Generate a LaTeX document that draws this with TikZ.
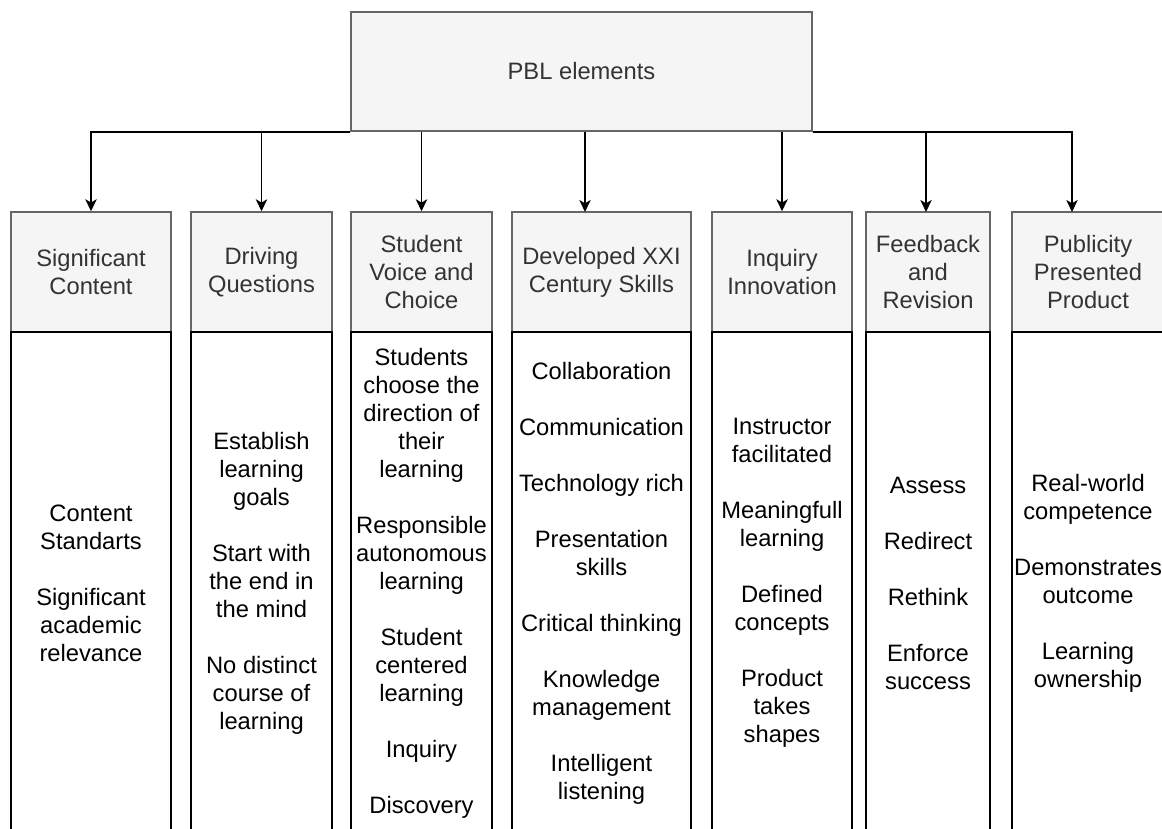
\documentclass[tikz,border=0pt]{standalone}
\usepackage{fontspec}
\setmainfont{Liberation Sans}
\usetikzlibrary{arrows.meta}
\definecolor{hdrfill}{HTML}{F5F5F5}
\definecolor{hdrline}{HTML}{666666}
\definecolor{hdrtext}{HTML}{333333}
\begin{document}
\begin{tikzpicture}[x=0.75pt,y=-0.75pt,
  txt/.style={font=\fontsize{17.8pt}{21pt}\selectfont, align=center},
  hdr/.style={txt, draw=hdrline, fill=hdrfill, text=hdrtext, line width=1.1pt, minimum height=90pt, inner sep=0pt},
  body/.style={txt, draw=black, fill=white, text=black, line width=1.2pt, minimum height=376.5pt, inner sep=0pt},
  arr/.style={draw=black, line width=1.3pt, -{Stealth[length=9pt,width=8.5pt,inset=2.5pt]}}
]
\useasboundingbox (0,0) rectangle (1162,828);
\clip (0,0) rectangle (1162,828);

\node[hdr, minimum width=345.75pt, minimum height=89.25pt] (top) at (581.5,71.5) {PBL elements};

% headers
\node[hdr, minimum width=120pt]    (h1) at (91,272)    {Significant\\Content};
\node[hdr, minimum width=105.75pt] (h2) at (261.5,272) {Driving\\Questions};
\node[hdr, minimum width=105.75pt] (h3) at (421.5,272) {Student\\Voice and\\Choice};
\node[hdr, minimum width=134.25pt] (h4) at (601.5,272) {Developed XXI\\Century Skills};
\node[hdr, minimum width=105pt]    (h5) at (782,272)   {Inquiry\\Innovation};
\node[hdr, minimum width=93pt]     (h6) at (928,272)   {Feedback\\and\\Revision};
\node[hdr, minimum width=114pt]    (h7) at (1088,272)  {Publicity\\Presented\\Product};

% bodies
\node[body, minimum width=120pt]    (b1) at (91,583)    {Content\\Standarts\\[21pt]Significant\\academic\\relevance};
\node[body, minimum width=105.75pt] (b2) at (261.5,583) {Establish\\learning\\goals\\[21pt]Start with\\the end in\\the mind\\[21pt]No distinct\\course of\\learning};
\node[body, minimum width=105.75pt] (b3) at (421.5,583) {Students\\choose the\\direction of\\their\\learning\\[21pt]Responsible\\autonomous\\learning\\[21pt]Student\\centered\\learning\\[21pt]Inquiry\\[21pt]Discovery};
\node[body, minimum width=134.25pt] (b4) at (601.5,583) {Collaboration\\[21pt]Communication\\[21pt]Technology rich\\[21pt]Presentation\\skills\\[21pt]Critical thinking\\[21pt]Knowledge\\management\\[21pt]Intelligent\\listening};
\node[body, minimum width=105pt]    (b5) at (782,583)   {Instructor\\facilitated\\[21pt]Meaningfull\\learning\\[21pt]Defined\\concepts\\[21pt]Product\\takes\\shapes};
\node[body, minimum width=93pt]     (b6) at (928,583)   {Assess\\[21pt]Redirect\\[21pt]Rethink\\[21pt]Enforce\\success};
\node[body, minimum width=114pt]    (b7) at (1088,583)  {Real-world\\competence\\[21pt]Demonstrates\\outcome\\[21pt]Learning\\ownership};

% arrow end points that are off the header centres
\coordinate (t4) at (585,212);
\coordinate (t6) at (926,212);
\coordinate (t7) at (1072,212);

% connectors
\draw[arr] (top.south west) -| (h1.north);
\draw[arr] (top.south west) -| (h2.north);
\draw[arr] (top.south -| h3.north) -- (h3.north);
\draw[arr] (top.south -| t4) -- (t4);
\draw[arr] (top.south -| h5.north) -- (h5.north);
\draw[arr] (top.south east) -| (t6);
\draw[arr] (top.south east) -| (t7);
\end{tikzpicture}
\end{document}
